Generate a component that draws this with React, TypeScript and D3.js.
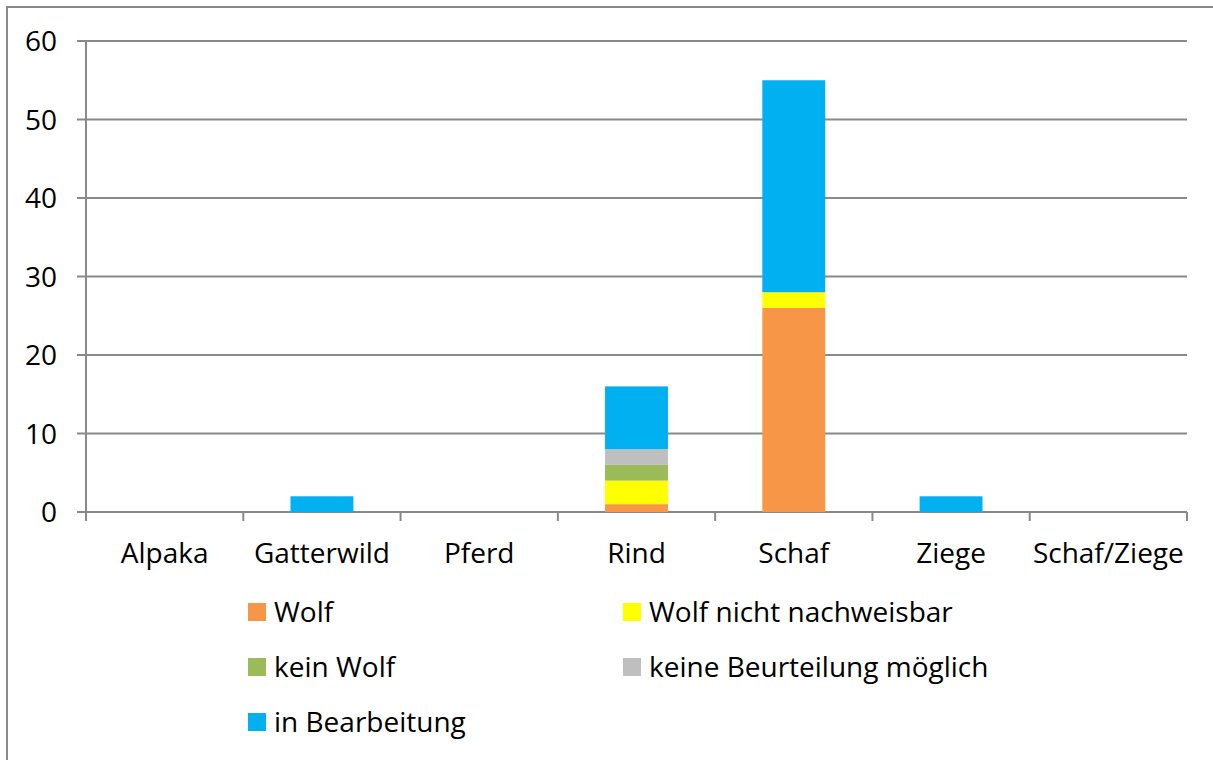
import React from 'react';
import * as d3 from 'd3';

const categories = ['Alpaka', 'Gatterwild', 'Pferd', 'Rind', 'Schaf', 'Ziege', 'Schaf/Ziege'];
const seriesNames = ['Wolf', 'Wolf nicht nachweisbar', 'kein Wolf', 'keine Beurteilung möglich', 'in Bearbeitung'];
const seriesColors = ['#F79646', '#FFFF00', '#9BBB59', '#BFBFBF', '#00B0F0'];
const wolf = [0, 0, 0, 1, 26, 0, 0];
const nichtNachweisbar = [0, 0, 0, 3, 2, 0, 0];
const keinWolf = [0, 0, 0, 2, 0, 0, 0];
const keineBeurteilung = [0, 0, 0, 2, 0, 0, 0];
const inBearbeitung = [0, 2, 0, 8, 27, 2, 0];
const yTicks = [0, 10, 20, 30, 40, 50, 60];

const W = 1213;
const H = 760;
const font = '"Open Sans", sans-serif';
const fs = 28;
const lineCol = '#898989';

export default function App() {
  const margin = { left: 86, right: 1187, top: 41, bottom: 512 };
  const x = d3.scaleBand().domain(categories).range([margin.left, margin.right]).paddingInner(0.6).paddingOuter(0.3);
  const xb = d3.scaleLinear().domain([0, categories.length]).range([margin.left, margin.right]);
  const y = d3.scaleLinear().domain([0, 60]).range([margin.bottom, margin.top]);

  const allSeries = [wolf, nichtNachweisbar, keinWolf, keineBeurteilung, inBearbeitung];
  const rows = categories.map((c, i) => {
    const r: any = { cat: c };
    seriesNames.forEach((s, k) => (r[s] = allSeries[k][i]));
    return r;
  });
  const stacked = d3.stack().keys(seriesNames)(rows);

  // legend layout: two columns
  const legendPos = seriesNames.map((_, i) => ({
    x: i % 2 === 0 ? 248 : 623,
    y: 612 + Math.floor(i / 2) * 55,
  }));

  return (
    <svg width={W} height={H} style={{ position: 'absolute', left: 0, top: 0, display: 'block' }}>
      <rect x={0} y={0} width={W} height={H} fill="#fff" />
      <rect x={7} y={7} width={W + 20} height={H + 20} fill="none" stroke={lineCol} strokeWidth={2} />
      {/* gridlines */}
      {yTicks.map((t) => (
        <g key={t}>
          <line x1={margin.left - 9} x2={margin.right} y1={y(t)} y2={y(t)} stroke={lineCol} strokeWidth={2} />
          <text x={57} y={y(t)} dy="0.36em" textAnchor="end" fontFamily={font} fontSize={fs} fill="#000">
            {t}
          </text>
        </g>
      ))}
      <line x1={margin.left} x2={margin.left} y1={y(60)} y2={y(0)} stroke={lineCol} strokeWidth={2} />
      {d3.range(categories.length + 1).map((i) => (
        <line key={i} x1={xb(i)} x2={xb(i)} y1={y(0)} y2={y(0) + 9} stroke={lineCol} strokeWidth={2} />
      ))}
      {/* bars */}
      {stacked.map((s, k) =>
        s.map((d, i) =>
          d[1] - d[0] > 0 ? (
            <rect
              key={k + '-' + i}
              x={x(categories[i])}
              width={x.bandwidth()}
              y={y(d[1])}
              height={y(d[0]) - y(d[1])}
              fill={seriesColors[k]}
            />
          ) : null
        )
      )}
      {categories.map((c) => (
        <text key={c} x={(x(c) as number) + x.bandwidth() / 2} y={553} dy="0.36em" textAnchor="middle" fontFamily={font} fontSize={fs} fill="#000">
          {c}
        </text>
      ))}
      {/* legend */}
      {seriesNames.map((s, i) => (
        <g key={s}>
          <rect x={legendPos[i].x} y={legendPos[i].y - 9} width={18} height={18} fill={seriesColors[i]} />
          <text x={legendPos[i].x + 26} y={legendPos[i].y} dy="0.36em" fontFamily={font} fontSize={fs} fill="#000">
            {s}
          </text>
        </g>
      ))}
    </svg>
  );
}
